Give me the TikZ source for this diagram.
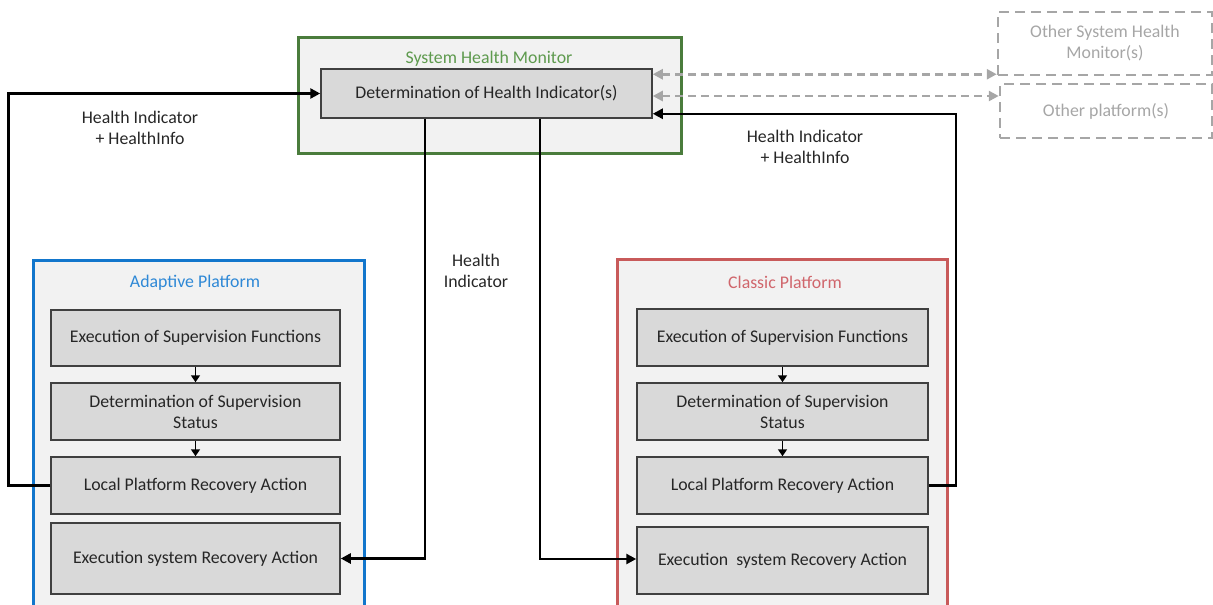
\documentclass[tikz,border=0pt]{standalone}
\usepackage{fontspec}
\setmainfont{Carlito}
\usetikzlibrary{arrows.meta}
\definecolor{shmgreen}{HTML}{4A7C3C}
\definecolor{shmtext}{HTML}{5E9A4E}
\definecolor{apblue}{HTML}{1276CC}
\definecolor{aptext}{HTML}{2E88D6}
\definecolor{cpred}{HTML}{C85A5A}
\definecolor{cptext}{HTML}{D0666C}
\definecolor{boxfill}{HTML}{D9D9D9}
\definecolor{boxedge}{HTML}{404040}
\definecolor{panelfill}{HTML}{F2F2F2}
\definecolor{dashgray}{HTML}{A6A6A6}
\definecolor{txt}{HTML}{262626}
\tikzset{
  fnt/.style={font=\fontsize{17.8}{21}\selectfont},
  panel/.style={rectangle, fill=panelfill, line width=3pt, inner sep=0pt},
  stepbox/.style={rectangle, fill=boxfill, draw=boxedge, line width=1.5pt, inner sep=0pt,
    text=txt, align=center, fnt},
  otherbox/.style={rectangle, draw=dashgray, line width=2.5pt, dash pattern=on 10pt off 6pt,
    inner sep=0pt, text=dashgray, align=center, fnt},
  title/.style={fnt},
  lbl/.style={text=txt, align=center, fnt},
  conn/.style={draw=black, line width=2.5pt, -{Triangle[length=10pt,width=10pt]}},
  small/.style={draw=black, line width=1.5pt, -{Triangle[length=7pt,width=9pt]}},
  dconn/.style={draw=dashgray, line width=2.5pt, dash pattern=on 8pt off 5pt,
    {Triangle[length=10pt,width=10pt]}-{Triangle[length=10pt,width=10pt]}}
}
\begin{document}
\begin{tikzpicture}[x=1pt,y=-1pt]
\useasboundingbox (0,0) rectangle (1213,605);
% panels
\node[panel, draw=shmgreen, minimum width=383pt, minimum height=116pt] (shm) at (489.5,95) {};
\node[panel, draw=apblue, minimum width=331pt, minimum height=350pt] (ap) at (198.5,435) {};
\node[panel, draw=cpred, minimum width=330pt, minimum height=351pt] (cp) at (782,434.5) {};
\node[title, text=shmtext] (shmt) at (489,59) {System Health Monitor};
\node[title, text=aptext] (apt) at (195,283) {Adaptive Platform};
\node[title, text=cptext] (cpt) at (785,282) {Classic Platform};
% SHM inner
\node[stepbox, minimum width=331pt, minimum height=49pt] (dhi) at (486.5,93.5) {Determination of Health Indicator(s)};
% other
\node[otherbox, minimum width=214pt, minimum height=63pt] (oshm) at (1105,43.5) {Other System Health\\Monitor(s)};
\node[otherbox, minimum width=212pt, minimum height=54pt] (op) at (1106,111) {Other platform(s)};
% adaptive
\node[stepbox, minimum width=289pt, minimum height=56pt] (a1) at (195.5,338) {Execution of Supervision Functions};
\node[stepbox, minimum width=289pt, minimum height=57pt] (a2) at (195.5,411.5) {Determination of Supervision\\Status};
\node[stepbox, minimum width=289pt, minimum height=57pt] (a3) at (195.5,485.5) {Local Platform Recovery Action};
\node[stepbox, minimum width=289pt, minimum height=71pt] (a4) at (195.5,558.5) {Execution system Recovery Action};
% classic
\node[stepbox, minimum width=291pt, minimum height=57pt] (c1) at (782.5,337.5) {Execution of Supervision Functions};
\node[stepbox, minimum width=291pt, minimum height=57pt] (c2) at (782.5,411.5) {Determination of Supervision\\Status};
\node[stepbox, minimum width=291pt, minimum height=57pt] (c3) at (782.5,485.5) {Local Platform Recovery Action};
\node[stepbox, minimum width=291pt, minimum height=67pt] (c4) at (782.5,560.5) {Execution\ \ system Recovery Action};
% small arrows
\draw[small] (a1.south) -- (a2.north);
\draw[small] (a2.south) -- (a3.north);
\draw[small] (c1.south) -- (c2.north);
\draw[small] (c2.south) -- (c3.north);
% main connectors
\draw[conn] (a3.west) -- ++(-42,0) |- (dhi.west);
\draw[conn] (c3.east) -- ++(27,0) |- ([yshift=5pt]dhi.south east);
\draw[conn] ([xshift=-61.5pt]dhi.south) |- (a4.east);
\draw[conn] ([xshift=53.5pt]dhi.south) |- ([yshift=1.5pt]c4.west);
% dashed
\draw[dconn] ([yshift=-6pt]dhi.north east) -- ([yshift=-6pt]dhi.north east -| oshm.west);
\draw[dconn] ([yshift=-2.5pt]dhi.east) -- ([yshift=-2.5pt]dhi.east -| op.west);
% labels
\node[lbl] (l1) at (140,127.5) {Health Indicator\\+ HealthInfo};
\node[lbl] (l2) at (805,147) {Health Indicator\\+ HealthInfo};
\node[lbl] (l3) at (476,270.5) {Health\\Indicator};
\end{tikzpicture}
\end{document}
